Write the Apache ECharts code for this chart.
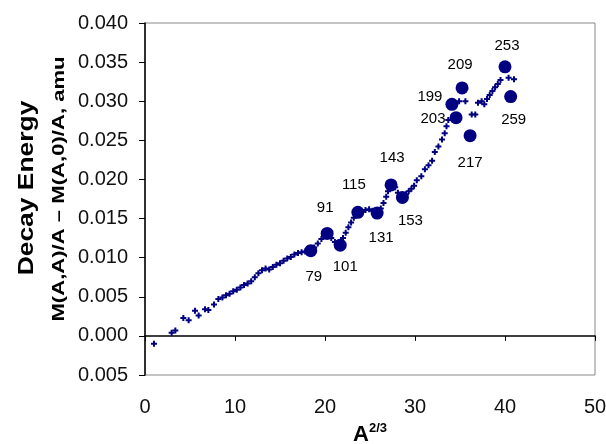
<!DOCTYPE html>
<html>
<head>
<meta charset="utf-8">
<script src="https://cdn.jsdelivr.net/npm/echarts@6/dist/echarts.min.js"></script>
<style>
html, body { margin: 0; padding: 0; background: #fff; }
#main { width: 606px; height: 444px; }
</style>
</head>
<body>
<div id="main"></div>
<script>
// small "+" points: [A^(2/3), decay energy]
var crossPoints = [
  [1.0, -0.0010], [2.96, 0.0004], [3.37, 0.0007], [4.26, 0.0023], [4.85, 0.0020],
  [5.56, 0.0032], [5.96, 0.0026], [6.67, 0.0034], [7.04, 0.0033], [7.67, 0.0040],
  [8.15, 0.0047], [8.6, 0.0049], [9.0, 0.0052], [9.4, 0.0054], [9.8, 0.0057],
  [10.2, 0.0059], [10.6, 0.0062], [11.0, 0.0065], [11.4, 0.0067], [11.8, 0.0070],
  [12.2, 0.0075], [12.6, 0.0080], [13.0, 0.0084], [13.4, 0.0086], [13.8, 0.0085],
  [14.2, 0.0088], [14.6, 0.0091], [15.0, 0.0093], [15.4, 0.0096], [15.8, 0.0099],
  [16.2, 0.0101], [16.6, 0.0104], [17.0, 0.0106], [17.4, 0.0107], [17.8, 0.0108],
  [18.8, 0.0113], [19.2, 0.0118], [19.6, 0.0124], [20.7, 0.0125], [21.1, 0.0120],
  [22.0, 0.0125], [22.3, 0.0132], [22.6, 0.0139], [22.9, 0.0145], [23.2, 0.0151],
  [24.1, 0.0159], [24.5, 0.0161], [24.9, 0.0162], [25.3, 0.0160], [26.2, 0.0163],
  [26.5, 0.0170], [26.8, 0.0178], [27.0, 0.0185], [27.8, 0.0190], [28.1, 0.0183],
  [29.0, 0.0181], [29.3, 0.0185], [29.6, 0.0188], [29.9, 0.0192], [30.2, 0.0199],
  [30.7, 0.0204], [31.1, 0.0213], [31.5, 0.0218], [31.9, 0.0224], [32.2, 0.0235],
  [32.6, 0.0242], [33.0, 0.0251], [33.3, 0.0259], [33.5, 0.0268], [33.7, 0.0276],
  [34.9, 0.0300], [35.6, 0.0300], [36.3, 0.0283], [36.7, 0.0283], [37.0, 0.0298],
  [37.4, 0.0300], [37.7, 0.0296], [38.0, 0.0303], [38.3, 0.0308], [38.6, 0.0313],
  [38.9, 0.0318], [39.2, 0.0322], [39.5, 0.0327], [40.4, 0.0330], [41.0, 0.0328]
];

// labelled nuclei (big circles)
var massNumbers = [79, 91, 101, 115, 131, 143, 153, 199, 203, 209, 217, 253, 259];
var circleX = [18.42, 20.24, 21.69, 23.65, 25.79, 27.34, 28.60, 34.10, 34.56, 35.23, 36.12, 40.0, 40.63];
var circleY = [0.0109, 0.0131, 0.0116, 0.0158, 0.0157, 0.0193, 0.0177, 0.0296, 0.0279, 0.0317, 0.0256, 0.0344, 0.0306];

var yTickLabels = ['0.005', '0.000', '0.005', '0.010', '0.015', '0.020', '0.025', '0.030', '0.035', '0.040'];

// label placement for each circle [dx, dy]
var labelOffsets = [
  [3, 26], [-2, -26], [5, 22], [-4, -27], [4, 25], [1, -27], [8, 23],
  [-22, -7], [-23, 1], [-2, -23], [0, 27], [2, -21], [3, 23]
];

var circles = massNumbers.map(function (a, i) {
  return {
    value: [circleX[i], circleY[i]],
    label: { show: true, formatter: String(a), position: 'inside', offset: labelOffsets[i] }
  };
});

var myChart = echarts.init(document.getElementById('main'));

var option = {
  backgroundColor: '#fff',
  animation: false,
  grid: {
    left: 145, right: 11, top: 23, bottom: 69, show: true, borderColor: '#888', borderWidth: 1,
    containLabel: false, outerBoundsMode: 'none'
  },
  xAxis: {
    type: 'value', min: 0, max: 50, interval: 10,
    name: '{b|A}{s|2/3}', nameLocation: 'middle', nameGap: 47,
    nameTextStyle: {
      rich: {
        b: { fontFamily: 'Liberation Sans', fontWeight: 'bold', fontSize: 22, color: '#000' },
        s: { fontFamily: 'Liberation Sans', fontWeight: 'bold', fontSize: 13, color: '#000', verticalAlign: 'top', padding: [0, 0, 12, 0] }
      }
    },
    axisLine: { lineStyle: { color: '#000', width: 1.5 } },
    axisTick: { length: 5, lineStyle: { color: '#000' } },
    axisLabel: { fontFamily: 'Liberation Sans', fontSize: 20, color: '#111', margin: 22 },
    splitLine: { show: false }
  },
  yAxis: {
    type: 'value', min: -0.005, max: 0.040, interval: 0.005,
    axisLine: { show: true, lineStyle: { color: '#000', width: 1.5 } },
    axisTick: { show: true, length: 6, lineStyle: { color: '#000' } },
    axisLabel: {
      fontFamily: 'Liberation Sans', fontSize: 20, color: '#111', margin: 17,
      formatter: function (v) { return yTickLabels[Math.round((v + 0.005) / 0.005)]; }
    },
    splitLine: { show: false }
  },
  graphic: [
    {
      type: 'text', x: 27, y: 188, rotation: Math.PI / 2, scaleX: 1.2,
      style: { text: 'Decay Energy', fontFamily: 'Liberation Sans', fontWeight: 'bold', fontSize: 22, fill: '#000', align: 'center', verticalAlign: 'middle' }
    },
    {
      type: 'text', x: 59, y: 189, rotation: Math.PI / 2, scaleX: 1.3,
      style: { text: 'M(A,A)/A \u2013 M(A,0)/A, amu', fontFamily: 'Liberation Sans', fontWeight: 'bold', fontSize: 17, fill: '#000', align: 'center', verticalAlign: 'middle' }
    }
  ],
  series: [
    {
      type: 'scatter',
      data: crossPoints,
      symbol: 'path://M2,0 L4,0 L4,2 L6,2 L6,4 L4,4 L4,6 L2,6 L2,4 L0,4 L0,2 L2,2 Z',
      symbolSize: 6,
      itemStyle: { color: '#000080', opacity: 1 },
      z: 2
    },
    {
      type: 'scatter',
      data: circles,
      symbol: 'circle',
      symbolSize: 13,
      itemStyle: { color: '#000080', opacity: 1 },
      label: { fontFamily: 'Liberation Sans', fontSize: 15, color: '#000' },
      z: 3
    }
  ]
};

myChart.setOption(option);
</script>
</body>
</html>
